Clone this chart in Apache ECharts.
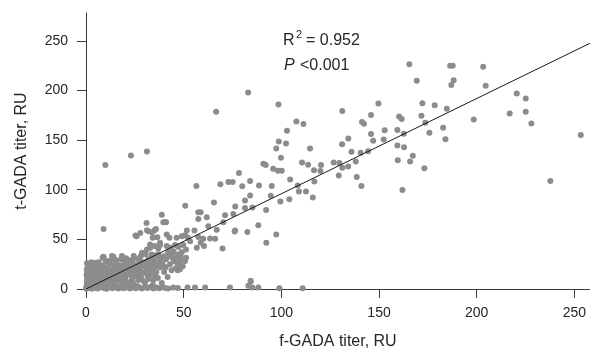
<!DOCTYPE html>
<html>
<head>
<meta charset="utf-8">
<script src="https://cdn.jsdelivr.net/npm/echarts@6/dist/echarts.min.js"></script>
<style>
  html, body { margin: 0; padding: 0; background: #fff; }
  #chart { width: 590px; height: 355px; }
</style>
</head>
<body>
<div id="chart"></div>
<script>
// axis ticks
const xTicks = [0, 50, 100, 150, 200, 250];
const yTicks = [0, 50, 100, 150, 200, 250];

// dense group near the origin (f-GADA, t-GADA)
const lowCluster = [
  [0.3,0.5],[0.5,3],[0.8,6],[1,9],[0.5,12],[1.2,15],[0.8,18],[1.5,21],[1,24],[2,2],[2.5,5],[2.2,8],
  [3,11],[2.8,14],[3.5,19],[4,22],[4.2,4],[4.5,7],[5,10],[5.5,15],[6,3],[6.2,12],[6.8,17],[7,21],
  [7.5,6],[8,9],[8.5,14],[9,24],[9.5,4],[10,11],[10.5,17],[11,21],[11.5,7],[12,26],[12.5,13],[13,19],
  [13.5,10],[14,23],[14.5,5],[15,16],[15.5,29],[16,20],[16.5,9],[17,24],[17.5,13],[18,30],[18.5,18],
  [19,11],[19.5,25],[20,21],[20.5,31],[21,7],[21.5,16],[22,23],[22.5,29],[23,18],[23.5,9],[24,26],
  [24.5,14],[25,31],[25.5,19],[26,24],[26.5,12],[27,20],[27.5,28],[28,33],[28.5,17],[29,23],[29.5,8],
  [30,27],[30.5,35],[31,21],[31.5,13],[32,30],[32.5,25],[33,19],[34,32],[34.5,9],[35,28],[36,17],
  [37,35],[38,22],[39,27],[40,17],[41,30],[42,37],[43,25],[44,32],[45,28],[46,21],[48,27],[49,37],
  [4.8,26.5],[6.5,23.2],[5.6,18.2],[8.2,19.8],[3.1,16.5],[9,31.5],[13.3,33.2],[18.4,33.2],[11.6,28.2],
  [15,26.5],[20.1,27.2],[24.4,33.2],[26.9,29.8],[28.7,36.5],[31.2,39.8],[32.9,41.5],[21.9,19.8],
  [25.3,21.5],[20.1,14.8],[23.6,11.5],[27.8,16.5],[33.8,23.2],[36.4,26.5],[38,29.8],[32.9,14.8],
  [35.5,13.2],[15,11.5],[18.4,8.2],[13.3,6.5],[11.6,13.2],[9.9,8.2],[16.7,14.8],[1.4,8.2],[3.1,9.8],
  [0.5,4.8],[2.2,13.2],[3.9,13.2],[8.9,32.5],[14,32.5],[8.5,31.5],
  [0.2,2],[0.4,7],[0.6,10],[0.3,14],[0.7,17],[0.4,20],[0.9,22],[0.5,26],[1.8,4],[1.6,11],[1.9,17],
  [2.4,23],[2.7,27],[3.3,2],[3.6,6],[3.8,25],[4.4,15],[5.2,1],[5.8,8],[6.5,27],[7.2,14],[7.8,11],
  [8.8,5],[9.2,18],[10.2,28],[10.8,2],[11.2,14],[12.2,4],[12.8,9],[13.8,15],[14.2,30],[15.2,8],
  [16.2,13],[17.2,3],[17.8,19],[18.8,22],[19.2,6],[20.2,12],[21.2,26],[22.2,4],[22.8,14],[23.8,22],
  [24.2,6],[25.2,16],[26.2,3],[26.8,9],[27.2,24],[28.2,12],[29.2,27],[30.2,6],[30.8,16],[31.8,24],
  [32.2,10],[33.2,28],[34.2,4],[34.8,20],[35.8,34],[36.8,11],[37.8,25],[38.8,6],[39.8,33],[40.8,22],
  [41.8,12],[42.8,34],[43.8,19],[44.8,38],[45.8,31],[47,25],[48.5,32],[49.5,23]
];

// points lying on / near the x axis
const baseline = [
  [0,0.5],[1.5,1],[3,0.3],[4.5,1.5],[6,0.5],[7.5,2],[9,1],[10.5,0.3],[12,1.8],[13.5,0.8],[15,2.5],
  [16.5,0.5],[18,1.5],[19.5,0.8],[21,2],[22.5,0.5],[24,1.5],[25.5,0.8],[27,2],[28.5,0.5],[30,1.5],
  [31.5,1],[33,2],[34.5,0.5],[36,1.5],[37.5,0.8],[39,2],[40.5,1],[42,0.5],[44.7,1.5],[47,1],[52,1.5],
  [55.8,1.5],[61,1.5],[73.7,1.5],[83.1,3.2],[84.3,7.5],[85.1,1.5],[84.3,8.2],[88.2,1.5],[99,0.8],[110.9,0.8]
];

// middle-low group
const midLow = [
  [25.3,53.8],[27.8,56.5],[31.2,59.2],[33.8,57.2],[9,60.5],[31,66.5],[31.9,58.2],[25.9,53.2],
  [40.4,67.5],[37.9,46.5],[9.9,125],[23,134.5],[31.2,138.5],
  [78.3,116.8],[56.5,103.8],[68.8,105.5],[72.9,107.8],[75.1,107.8],[80,103.5],[65.5,87.2],[50.8,83.8],
  [81.4,89.2],[57.5,77.2],[58.7,77.2],[57.5,70.5],[61.8,72.2],[71.2,74.2],[75.4,75.5],[76.4,83.2],
  [81.4,81.5],[38.8,74.8],[39.6,67.2],[41,67.2],[51.6,58.8],[55.5,58.8],[62.6,63.2],[66.9,59.8],
  [70.3,67.2],[76.3,58.8],[82.6,57.5],[76.1,57.8],[35,58.8],[35.8,60.5],[34.1,51.5],[36.5,52.2],
  [41.3,54.8],[42.7,51.5],[46.4,51.5],[49,53.2],[50.7,54.2],[52.1,51.5],[53.3,48.2],[57.5,52.5],
  [60,50.5],[58.7,46.5],[63.5,50.8],[66.1,50.5],[56.7,41.5],[60.4,43.2],[69.9,40.8],[32.8,44.8],
  [35.3,43.2],[37,40.8],[37.9,44.2],[41.3,43.2],[43,41.5],[45.6,44.2],[47.3,42.2],[49.8,44.2],
  [51.2,39.8],[33.6,34.8],[36.5,33.2],[38.8,31.5],[44.7,36.5],[47.3,34.8],[51.2,31.5],[50.7,28.2],
  [33.6,25.5],[36.2,23.2],[39.6,23.2],[47,18.8],[33.6,18.2],[48.1,19.8],[66.6,178.5]
];

// middle group
const midHigh = [
  [83,198],[98.5,185.8],[131.2,179.2],[107.7,168.8],[111.3,166.2],[102.9,159.5],[141.3,168.2],
  [142.3,166.5],[98.7,148.5],[97.4,141.5],[102.4,146.5],[114.7,141.5],[134.3,151.5],[131.1,145.8],
  [99.8,132.2],[90.8,126.2],[92,124.8],[95.8,121.2],[98.3,119.2],[100.2,119.2],[110.6,127.5],
  [113.7,125.2],[120.3,124.8],[116.7,119.5],[120,118.8],[126.8,127.5],[129.7,126.8],[131.2,122.2],
  [134.2,123.5],[135.9,138.2],[140.6,137.2],[144.4,138.8],[138.1,128.5],[129.4,114.2],[138.6,112.8],
  [141,103.8],[104.5,110.2],[116.9,108.2],[108.4,104.2],[109,98.2],[112.6,98.2],[116.1,92.2],
  [104.1,90.5],[99.5,88.2],[95.1,103.8],[88.6,104.2],[84,108.8],[84,94.2],[94.6,93.8],[85.2,82.2],
  [92.2,79.5],[88.2,64.2],[97.4,54.8],[92.3,46.5]
];

// upper right group
const highPoints = [
  [165.5,226.5],[186.4,224.8],[187.7,224.8],[203.3,223.8],[169.3,209.8],[188.2,210.2],[187,205.5],
  [204.6,204.8],[220.5,197],[225.1,191.8],[149.7,186.8],[172.2,187.2],[178.5,185.2],[184.7,181.5],
  [145.9,175.2],[160.3,173.8],[161.6,171.2],[171.7,174.5],[198.5,170.8],[216.9,176.8],[225.1,178.5],
  [228,166.8],[173.7,167.5],[152.9,159.8],[159.4,160.2],[162.7,156.5],[145.9,156.2],[182.8,162.5],
  [175.8,157.5],[147,149.2],[152.4,150.5],[184,150.8],[159.4,144.5],[162.8,142.8],[167.3,134.2],
  [159.6,129.8],[165.9,128.5],[173.2,121.5],[162,99.8],[253.3,155.2],[237.7,108.8]
];

// fitted line end points
const fitLine = [[0, 0], [258, 247.5]];

const allPoints = [].concat(baseline, lowCluster, midLow, midHigh, highPoints);

const chart = echarts.init(document.getElementById('chart'));
const axisColor = '#3a3a3a';
const txtColor = '#262626';
const font = 'Liberation Sans, Arial, sans-serif';

chart.setOption({
  animation: false,
  backgroundColor: '#fff',
  grid: { left: 86, right: 0, top: 13, bottom: 64 },
  xAxis: {
    type: 'value',
    min: 0,
    max: 258,
    interval: 50,
    name: 'f-GADA titer, RU',
    nameLocation: 'middle',
    nameGap: 45,
    nameTextStyle: { fontSize: 16, color: txtColor, fontFamily: font },
    axisLine: { onZero: false, lineStyle: { color: axisColor, width: 1 } },
    axisTick: { length: 9, lineStyle: { color: axisColor } },
    axisLabel: {
      fontSize: 14, color: txtColor, fontFamily: font, margin: 17,
      showMaxLabel: false,
      formatter: v => xTicks.includes(v) ? String(v) : ''
    },
    splitLine: { show: false }
  },
  yAxis: {
    type: 'value',
    min: 0,
    max: 278,
    interval: 50,
    name: 't-GADA titer, RU',
    nameLocation: 'middle',
    nameGap: 56,
    nameTextStyle: { fontSize: 16, color: txtColor, fontFamily: font },
    axisLine: { show: true, onZero: false, lineStyle: { color: axisColor, width: 1 } },
    axisTick: { show: true, length: 9, lineStyle: { color: axisColor } },
    axisLabel: {
      fontSize: 14, color: txtColor, fontFamily: font, margin: 18,
      showMaxLabel: false,
      formatter: v => yTicks.includes(v) ? String(v) : ''
    },
    splitLine: { show: false }
  },
  graphic: [
    { type: 'text', left: 283, top: 33, style: { text: 'R', fontSize: 16, fill: txtColor, fontFamily: font } },
    { type: 'text', left: 296, top: 29, style: { text: '2', fontSize: 11, fill: txtColor, fontFamily: font } },
    { type: 'text', left: 306, top: 33, style: { text: '= 0.952', fontSize: 16, fill: txtColor, fontFamily: font } },
    { type: 'text', left: 284, top: 58, style: { text: 'P', fontSize: 16, fontStyle: 'italic', fill: txtColor, fontFamily: font } },
    { type: 'text', left: 300, top: 58, style: { text: '<0.001', fontSize: 16, fill: txtColor, fontFamily: font } }
  ],
  series: [
    {
      type: 'scatter',
      data: allPoints,
      symbolSize: 6,
      itemStyle: { color: '#8c8c8c', opacity: 1 },
      z: 2
    },
    {
      type: 'line',
      data: fitLine,
      symbol: 'none',
      lineStyle: { color: '#1a1a1a', width: 1 },
      z: 3
    }
  ]
});
</script>
</body>
</html>
